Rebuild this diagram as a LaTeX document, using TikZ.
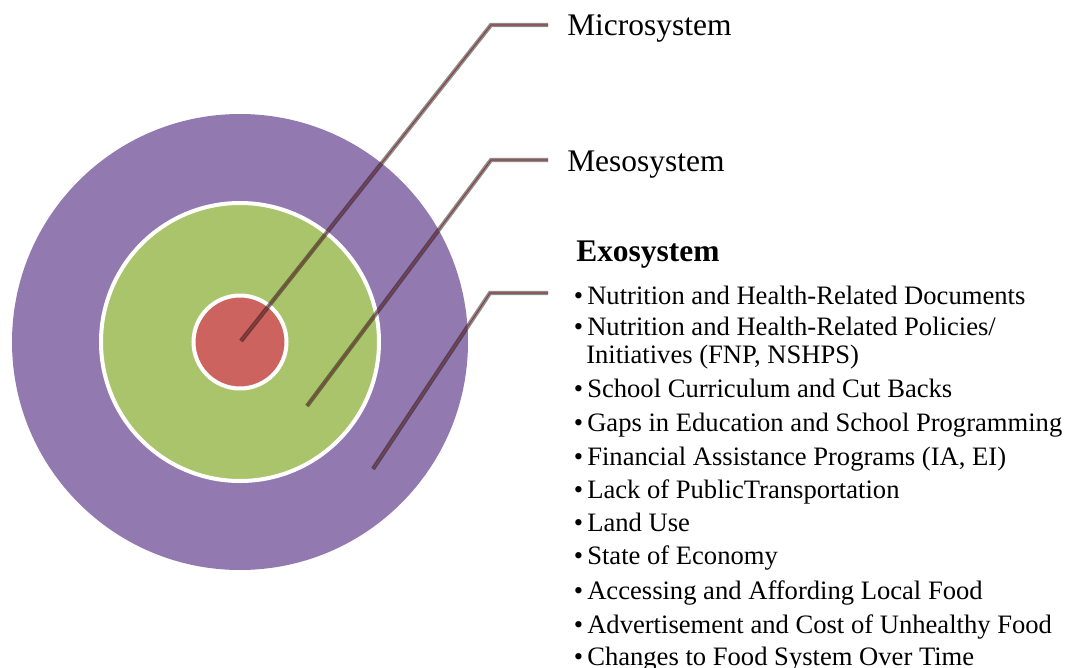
\documentclass[tikz,border=0pt]{standalone}
\usepackage{fontspec}
\setmainfont{Liberation Serif}
\definecolor{exoC}{RGB}{146,122,176}
\definecolor{mesoC}{RGB}{170,196,108}
\definecolor{microC}{RGB}{204,99,94}
\definecolor{coreC}{RGB}{140,62,64}
\tikzset{
  ring/.style={circle, inner sep=0pt, minimum size=#1},
  leader/.style={draw=black, draw opacity=0.45, line width=3.2pt, line join=miter},
  leadercore/.style={draw=coreC, line width=0.8pt, line join=miter},
  head/.style={anchor=base west, inner sep=0pt, font=\fontsize{23.6}{26}\selectfont},
  item/.style={anchor=base west, inner sep=0pt, font=\fontsize{19.95}{24}\selectfont},
}
\begin{document}
\begin{tikzpicture}[x=0.75pt, y=-0.75pt]
\useasboundingbox (0,0) rectangle (1065,668);
% circles
\node[ring=456*0.75pt, fill=exoC] (exo) at (240,342) {};
\node[ring=278*0.75pt, fill=mesoC, draw=white, line width=3pt] (meso) at (240,342) {};
\node[ring=93*0.75pt, fill=microC, draw=white, line width=3pt] (micro) at (240,342) {};
% leader points
\coordinate (m0) at (241,341);
\coordinate (m1) at (491,25);
\coordinate (m2) at (548,25);
\coordinate (s0) at (307,406);
\coordinate (s1) at (491,160);
\coordinate (s2) at (548,160);
\coordinate (e0) at (373,469);
\coordinate (e1) at (490,293);
\coordinate (e2) at (548,293);
\foreach \a/\b/\c in {m0/m1/m2, s0/s1/s2, e0/e1/e2}{
  \draw[leader] (\a) -- (\b) -- (\c);
  \draw[leadercore] (\a) -- (\b) -- (\c);
}
% labels
\node[head] (tmicro) at (567,35) {Microsystem};
\node[head] (tmeso) at (567,171) {Mesosystem};
\node[head, font=\fontsize{23.6}{26}\selectfont\bfseries] (texo) at (576,261) {Exosystem};
% bullets
\foreach \y [count=\i] in {304,335,397,431,465,498,531,564,599,633,665}{
  \node[item] (b\i) at (573.5,\y) {•};
}
\node[item] (i1) at (587,304) {Nutrition and Health-Related Documents};
\node[item] (i2) at (587,335) {Nutrition and Health-Related Policies/};
\node[item] (i2b) at (586,363) {Initiatives (FNP, NSHPS)};
\node[item] (i3) at (587,397) {School Curriculum and Cut Backs};
\node[item] (i4) at (587,431) {Gaps in Education and School Programming};
\node[item] (i5) at (587,465) {Financial Assistance Programs (IA, EI)};
\node[item] (i6) at (587,498) {Lack of PublicTransportation};
\node[item] (i7) at (587,531) {Land Use};
\node[item] (i8) at (587,564) {State of Economy};
\node[item] (i9) at (587,599) {Accessing and Affording Local Food};
\node[item] (i10) at (587,633) {Advertisement and Cost of Unhealthy Food};
\node[item] (i11) at (587,665) {Changes to Food System Over Time};
\end{tikzpicture}
\end{document}
